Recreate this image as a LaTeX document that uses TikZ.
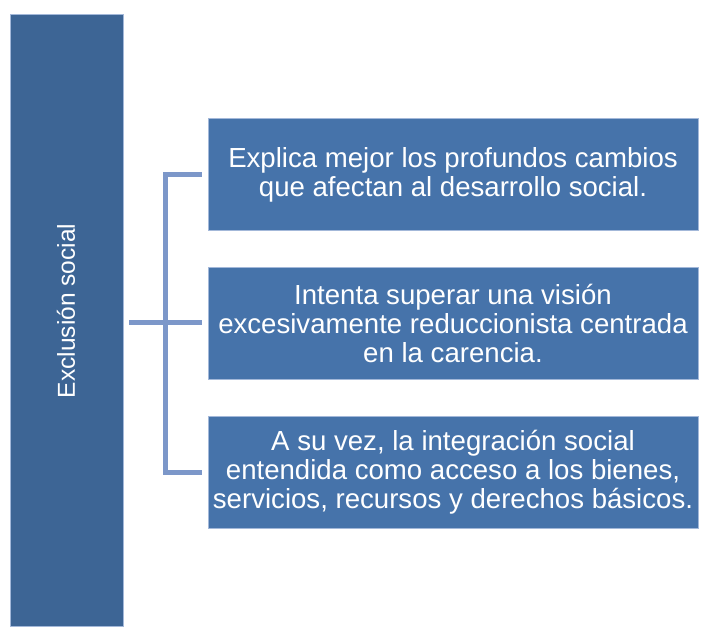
\documentclass[tikz,border=0pt]{standalone}
\usepackage{fontspec}
\setmainfont{Liberation Sans}
\definecolor{barblue}{HTML}{3D6595}
\definecolor{boxblue}{HTML}{4673AA}
\definecolor{edgeblue}{HTML}{A3B8D9}
\definecolor{linkblue}{HTML}{7C97C9}
\begin{document}
\begin{tikzpicture}[x=1pt,y=-1pt,
  bar/.style={rectangle, fill=barblue, draw=edgeblue, line width=0.8pt, minimum width=113pt, minimum height=612pt, inner sep=0pt},
  barlabel/.style={text=white, rotate=90, font=\fontsize{24.5}{28}\selectfont, inner sep=0pt},
  itembox/.style={rectangle, fill=boxblue, draw=edgeblue, line width=0.8pt, minimum width=490pt, minimum height=112pt, inner sep=0pt, text=white, align=center, font=\fontsize{27.6}{29}\selectfont},
  link/.style={draw=linkblue, line width=5pt, line join=miter, line cap=butt}]
\useasboundingbox (0,0) rectangle (702,628);
\node[bar] (bar) at (66.5,320) {};
\node[barlabel] (lab) at (66,311) {Exclusión social};
\node[itembox] (b1) at (453,174.5) {Explica mejor los profundos cambios\\que afectan al desarrollo social.};
\node[itembox] (b2) at (453,323) {Intenta superar una visión\\excesivamente reduccionista centrada\\en la carencia.};
\node[itembox] (b3) at (453,472) {A su vez, la integración social\\entendida como acceso a los bienes,\\servicios, recursos y derechos básicos.};
\coordinate (j) at (165.5,323);
\draw[link] ([xshift=6pt]bar.east |- b2.west) -- ([xshift=-6pt]b2.west);
\draw[link] ([xshift=-6pt]b1.west) -| (j |- b3.west) -- ([xshift=-6pt]b3.west);
\end{tikzpicture}
\end{document}
